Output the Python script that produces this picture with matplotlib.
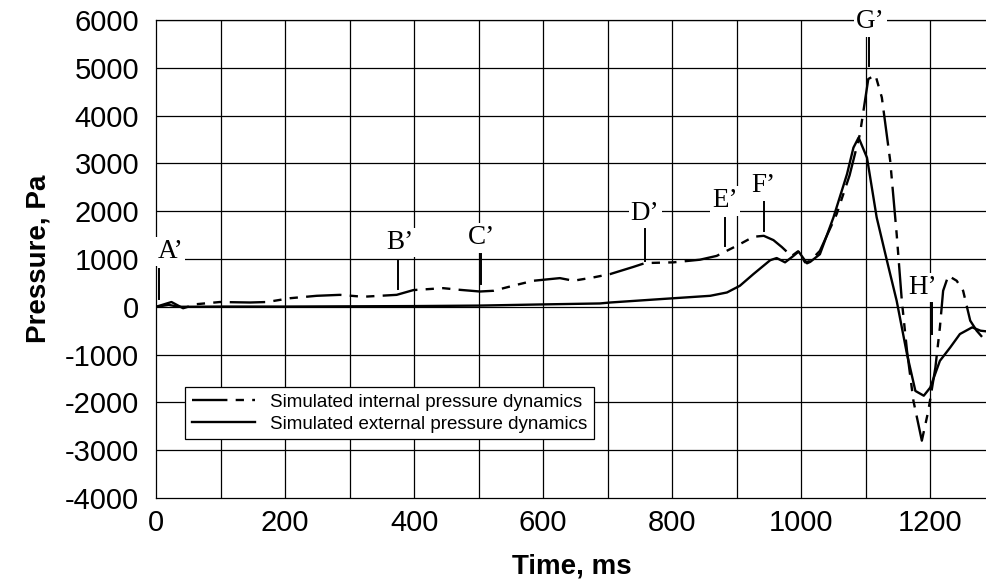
import matplotlib
matplotlib.use("Agg")
import matplotlib.pyplot as plt

# ---- data ----
t_int = [0, 24, 42, 63, 99, 146, 172, 208, 249, 285, 321, 373, 399, 445, 471,
         502, 523, 559, 585, 611, 626, 647, 678, 704, 740, 758, 802, 843, 869,
         900, 926, 942, 957, 970, 985, 995, 1006, 1014, 1029, 1055, 1075, 1091,
         1104, 1115, 1125, 1138, 1148, 1156, 1164, 1174, 1187, 1197, 1208, 1215,
         1220, 1228, 1241, 1251, 1262, 1272, 1281]
p_int = [0, 100, -30, 55, 100, 90, 100, 180, 230, 250, 210, 250, 350, 390, 355,
         320, 335, 460, 545, 580, 600, 545, 615, 685, 835, 915, 930, 985, 1065,
         1275, 1465, 1485, 1395, 1250, 1060, 1160, 930, 960, 1170, 1940, 2750, 3610,
         4765, 4850, 4380, 3050, 1520, 125, -920, -1970, -2800, -2180, -1270, -430,
         335, 650, 545, 335, -290, -500, -640]

t_ext = [0, 20, 35, 100, 200, 300, 400, 500, 600, 688, 704, 781, 859, 885, 905,
         926, 952, 962, 975, 988, 996, 1009, 1014, 1029, 1050, 1071, 1081, 1089,
         1102, 1117, 1133, 1148, 1164, 1177, 1190, 1200, 1215, 1231, 1246, 1265,
         1278, 1288]
p_ext = [0, 40, 0, 5, 5, 10, 15, 25, 50, 70, 90, 160, 230, 300, 440,
         685, 975, 1020, 930, 1065, 1155, 910, 940, 1100, 1870, 2775, 3330, 3540,
         3120, 1870, 960, 125, -990, -1760, -1860, -1690, -1130, -850, -570, -430,
         -500, -515]

# label, text (t, p), marker line x, line top, line bottom
marks = [
    ("A\u2019", 22, 1150, 5, 795, 170),
    ("B\u2019", 378, 1340, 375, 960, 375),
    ("C\u2019", 504, 1440, 504, 1110, 480),
    ("D\u2019", 758, 1945, 758, 1630, 960),
    ("E\u2019", 882, 2215, 882, 1860, 1275),
    ("F\u2019", 942, 2530, 942, 2215, 1590),
    ("G\u2019", 1107, 5960, 1105, 5630, 5040),
    ("H\u2019", 1188, 400, 1203, 85, -565),
]

x_ticks = [0, 200, 400, 600, 800, 1000, 1200]
y_ticks = [6000, 5000, 4000, 3000, 2000, 1000, 0, -1000, -2000, -3000, -4000]

plt.rcParams['font.family'] = ['Liberation Sans', 'DejaVu Sans']
plt.rcParams['axes.unicode_minus'] = False

fig = plt.figure(figsize=(9.87, 5.87), dpi=100)
ax = fig.add_axes([156 / 987, 89 / 587, 831 / 987, 478 / 587])

ax.set_xlim(0, 1288)
ax.set_ylim(-4000, 6000)

# grid every 100 ms and every 1000 Pa
for gx in range(100, 1288, 100):
    ax.axvline(gx, color='black', lw=0.9, zorder=1)
for gy in range(-3000, 6001, 1000):
    ax.axhline(gy, color='black', lw=0.9, zorder=1)

ax.plot(t_int, p_int, color='black', lw=1.7, dashes=(15, 3.5, 3.5, 3.5, 3.5, 3.5),
        label='Simulated internal pressure dynamics', zorder=3)
ax.plot(t_ext, p_ext, color='black', lw=1.7,
        label='Simulated external pressure dynamics', zorder=3)

for lab, tx, ty, lx, ltop, lbot in marks:
    ax.plot([lx, lx], [lbot, ltop], color='black', lw=1.4, zorder=4)
    ax.text(tx, ty, lab, family='Liberation Serif', fontsize=19.5,
            ha='center', va='center', zorder=5,
            bbox=dict(facecolor='white', edgecolor='none', pad=1.5))

ax.set_xticks(x_ticks)
ax.set_yticks(y_ticks)
ax.tick_params(axis='both', length=0, labelsize=21)
ax.tick_params(axis='y', pad=12)
ax.tick_params(axis='x', pad=8)

for s in ax.spines.values():
    s.set_color('black')
    s.set_linewidth(0.9)
ax.spines['right'].set_visible(False)

ax.set_xlabel('Time, ms', fontsize=20, fontweight='bold', labelpad=12)
ax.set_ylabel('Pressure, Pa', fontsize=20, fontweight='bold', labelpad=10)

leg = ax.legend(loc='lower left', bbox_to_anchor=(0.035, 0.123),
                fontsize=13.5, handlelength=3.4, labelspacing=0.25,
                borderpad=0.35, borderaxespad=0, fancybox=False,
                framealpha=1, edgecolor='black')
leg.get_frame().set_linewidth(0.9)
leg.set_zorder(6)

fig.savefig('out.png', dpi=100)
